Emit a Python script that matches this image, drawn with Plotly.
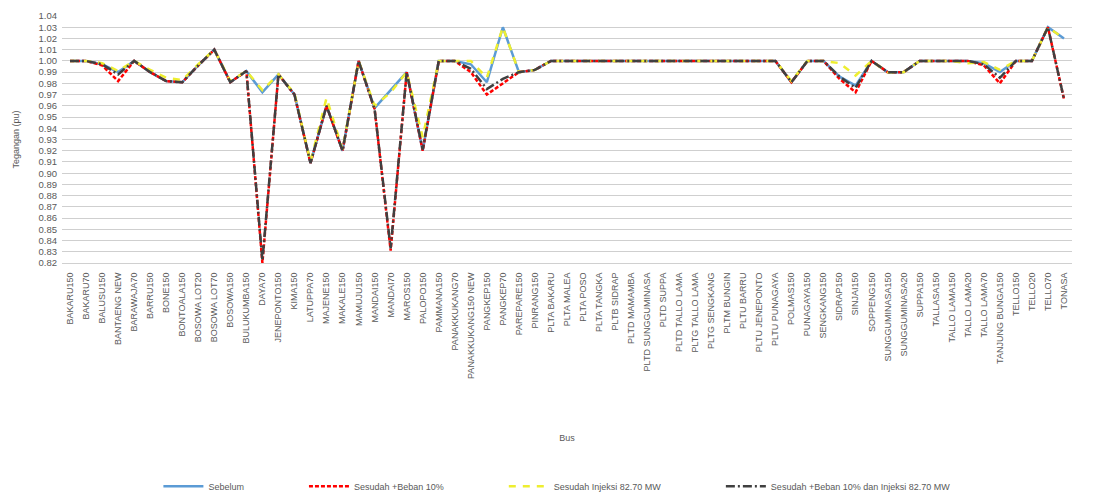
import plotly.graph_objects as go

buses = [
    "BAKARU150", "BAKARU70", "BALUSU150", "BANTAENG NEW", "BARAWAJA70", "BARRU150",
    "BONE150", "BONTOALA150", "BOSOWA LOT20", "BOSOWA LOT70", "BOSOWA150", "BULUKUMBA150",
    "DAYA70", "JENEPONTO150", "KIMA150", "LATUPPA70", "MAJENE150", "MAKALE150",
    "MAMUJU150", "MANDAI150", "MANDAI70", "MAROS150", "PALOPO150", "PAMMANA150",
    "PANAKKUKANG70", "PANAKKUKANG150 NEW", "PANGKEP150", "PANGKEP70", "PAREPARE150", "PINRANG150",
    "PLTA BAKARU", "PLTA MALEA", "PLTA POSO", "PLTA TANGKA", "PLTB SIDRAP", "PLTD MAMAMBA",
    "PLTD SUNGGUMINASA", "PLTD SUPPA", "PLTD TALLO LAMA", "PLTG TALLO LAMA", "PLTG SENGKANG", "PLTM BUNGIN",
    "PLTU BARRU", "PLTU JENEPONTO", "PLTU PUNAGAYA", "POLMAS150", "PUNAGAYA150", "SENGKANG150",
    "SIDRAP150", "SINJAI150", "SOPPENG150", "SUNGGUMINASA150", "SUNGGUMINASA20", "SUPPA150",
    "TALLASA150", "TALLO LAMA150", "TALLO LAMA20", "TALLO LAMA70", "TANJUNG BUNGA150", "TELLO150",
    "TELLO20", "TELLO70", "TONASA",
]

sebelum = [
    1.000, 1.000, 0.997, 0.990, 1.000, 0.990, 0.982, 0.981, 0.996, 1.010, 0.981, 0.991,
    0.972, 0.988, 0.970, 0.909, 0.960, 0.920, 1.000, 0.958, 0.974, 0.990, 0.920, 1.000,
    1.000, 0.997, 0.981, 1.030, 0.990, 0.992, 1.000, 1.000, 1.000, 1.000, 1.000, 1.000,
    1.000, 1.000, 1.000, 1.000, 1.000, 1.000, 1.000, 1.000, 1.000, 0.981, 1.000, 1.000,
    0.986, 0.978, 1.000, 0.990, 0.990, 1.000, 1.000, 1.000, 1.000, 0.998, 0.990, 1.000,
    1.000, 1.030, 1.020,
]

beban = [
    1.000, 1.000, 0.996, 0.982, 1.000, 0.990, 0.982, 0.981, 0.996, 1.010, 0.981, 0.991,
    0.820, 0.988, 0.970, 0.909, 0.960, 0.920, 1.000, 0.957, 0.831, 0.990, 0.920, 1.000,
    1.000, 0.990, 0.970, 0.980, 0.990, 0.992, 1.000, 1.000, 1.000, 1.000, 1.000, 1.000,
    1.000, 1.000, 1.000, 1.000, 1.000, 1.000, 1.000, 1.000, 1.000, 0.981, 1.000, 1.000,
    0.984, 0.972, 1.000, 0.990, 0.990, 1.000, 1.000, 1.000, 1.000, 0.996, 0.980, 1.000,
    1.000, 1.030, 0.966,
]

injeksi = [
    1.000, 1.000, 0.998, 0.991, 1.000, 0.992, 0.985, 0.983, 0.997, 1.010, 0.982, 0.991,
    0.974, 0.988, 0.971, 0.910, 0.967, 0.921, 1.000, 0.960, 0.972, 0.990, 0.932, 1.000,
    1.000, 1.000, 0.985, 1.030, 0.990, 0.992, 1.000, 1.000, 1.000, 1.000, 1.000, 1.000,
    1.000, 1.000, 1.000, 1.000, 1.000, 1.000, 1.000, 1.000, 1.000, 0.982, 1.000, 1.000,
    0.998, 0.987, 1.000, 0.990, 0.990, 1.000, 1.000, 1.000, 0.998, 0.999, 0.992, 1.000,
    1.000, 1.030, 1.020,
]

beban_injeksi = [
    1.000, 1.000, 0.997, 0.988, 1.000, 0.990, 0.982, 0.981, 0.996, 1.010, 0.981, 0.991,
    0.822, 0.988, 0.970, 0.909, 0.960, 0.920, 1.000, 0.957, 0.833, 0.990, 0.921, 1.000,
    1.000, 0.993, 0.975, 0.984, 0.990, 0.992, 1.000, 1.000, 1.000, 1.000, 1.000, 1.000,
    1.000, 1.000, 1.000, 1.000, 1.000, 1.000, 1.000, 1.000, 1.000, 0.981, 1.000, 1.000,
    0.986, 0.976, 1.000, 0.990, 0.990, 1.000, 1.000, 1.000, 1.000, 0.997, 0.985, 1.000,
    1.000, 1.030, 0.966,
]

y_ticks = [round(0.82 + 0.01 * i, 2) for i in range(23)]

series_names = [
    "Sebelum",
    "Sesudah +Beban 10%",
    "Sesudah Injeksi 82.70 MW",
    "Sesudah +Beban 10% dan Injeksi 82.70 MW",
]
series_values = [sebelum, beban, injeksi, beban_injeksi]
series_colors = ["#5B9BD5", "#FF0000", "#EEEE30", "#404040"]
series_dashes = ["solid", "4px,2px", "7px,7px", "9px,3px,2px,3px"]
pad = "\u00a0" * 22
legend_pads = [pad, pad, pad, ""]

fig = go.Figure()
for name, vals, color, dash, p in zip(series_names, series_values, series_colors,
                                      series_dashes, legend_pads):
    fig.add_trace(go.Scatter(
        x=buses, y=vals, mode="lines", name=name + p,
        line=dict(color=color, width=2.5, dash=dash),
    ))

font_family = "Liberation Sans, Arial, sans-serif"
fig.update_layout(
    width=1089, height=486,
    margin=dict(l=54, r=25, t=8, b=231),
    paper_bgcolor="white", plot_bgcolor="white",
    font=dict(family=font_family, size=8, color="#595959"),
    showlegend=True,
    legend=dict(
        orientation="h", x=0.49, xanchor="center",
        yref="container", y=0.016, yanchor="middle",
        font=dict(size=9, color="#595959"), itemwidth=40,
    ),
)
fig.update_xaxes(
    type="category", tickangle=-90, tickfont=dict(size=9, color="#595959"),
    showgrid=False, showline=True, linecolor="#D0D0D0", linewidth=1,
    ticks="", ticklabelstandoff=5,
    title=dict(text="Bus", font=dict(size=9, color="#595959"), standoff=56),
    range=[-0.5, len(buses) - 0.5], automargin=False,
)
fig.update_yaxes(
    range=[0.82, 1.04], tickvals=y_ticks, tickformat=".2f",
    tickfont=dict(size=9.5, color="#595959"), ticklabelstandoff=4,
    showgrid=True, gridcolor="#CFCFCF", gridwidth=1, zeroline=False,
    showline=False, ticks="", automargin=False,
    title=dict(text="Tegangan (pu)", font=dict(size=9, color="#595959"), standoff=17),
)

fig.write_html("out.html")
